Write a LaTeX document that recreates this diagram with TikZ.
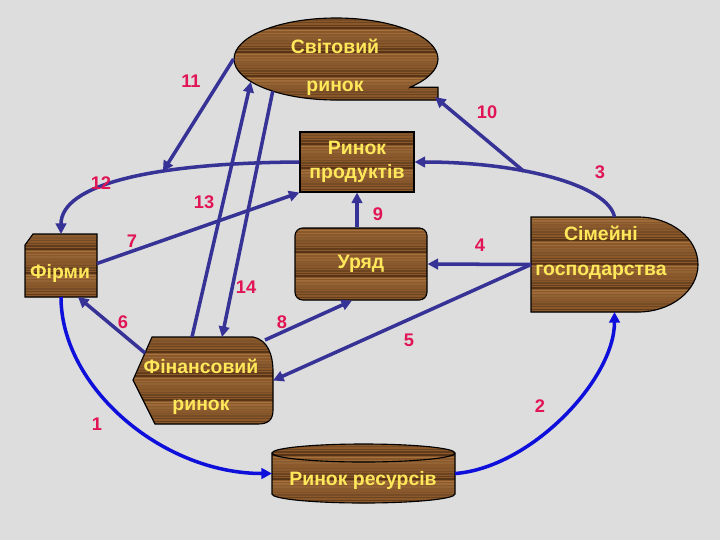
\documentclass[tikz,border=0pt]{standalone}
\usepackage{fontspec}
\setmainfont{Liberation Sans}
\usetikzlibrary{arrows.meta,shapes.geometric}
\definecolor{bggray}{RGB}{221,221,221}
\definecolor{woodmid}{RGB}{138,88,42}
\definecolor{wooddark}{RGB}{88,52,22}
\definecolor{woodlight}{RGB}{176,124,68}
\definecolor{woodtext}{RGB}{255,232,90}
\definecolor{flowpurple}{RGB}{55,50,150}
\definecolor{flowblue}{RGB}{15,15,220}
\definecolor{numred}{RGB}{225,20,85}
\newcommand{\pxu}{0.025cm}

\begin{document}
\begin{tikzpicture}[
    x=\pxu, y=-\pxu,
    wood/.style={
      draw=black, line width=0.8pt, fill=woodmid,
      path picture={
        \foreach \k in {0,...,40}{
          \pgfmathtruncatemacro\tone{mod(\k*37,9)*11}
          \pgfmathsetmacro\grain{0.5+mod(\k*13,4)*0.3}
          \draw[woodlight!\tone!wooddark, line width=\grain pt]
            ([yshift=\k*1.9pt]path picture bounding box.south west) --
            ([yshift=\k*1.9pt]path picture bounding box.south east);
        }
      }
    },
    hub/.style={inner sep=0pt, outer sep=0pt},
    txt/.style={text=woodtext, align=center, font=\bfseries\fontsize{13.8}{17}\selectfont},
    num/.style={text=numred, font=\bfseries\fontsize{13}{15}\selectfont},
    arr/.style={-{Triangle[length=7.5pt,width=7.5pt]}, line width=2.5pt, draw=flowpurple},
    arrb/.style={arr, draw=flowblue}
  ]
    \fill[bggray] (0,0) rectangle (720,540);
    \useasboundingbox (0,0) rectangle (720,540);

    \path[wood] (410,87.2) -- (438,87.2) -- (438,100) -- (336,100)
      arc[start angle=90, end angle=403.5, x radius=102, y radius=41] -- cycle;
    \path[wood] (531,217) -- (638,217)
      arc[start angle=-90, end angle=90, x radius=60, y radius=47.5] -- (531,312) -- cycle;
    \path[wood] (33,234) -- (97,234) -- (97,297) -- (25,297) -- (25,245) -- cycle;
    \path[wood] (152,337) -- (253,337) .. controls (268,340) and (273,355) .. (273,372)
      -- (273,410) .. controls (273,420) and (268,424) .. (258,424) -- (155,424) -- (133,380) -- cycle;
    \path[wood] (272,453) -- (272,494) arc[start angle=180, end angle=0, x radius=91.5, y radius=9]
      -- (455,453) arc[start angle=0, end angle=-180, x radius=91.5, y radius=9] -- cycle;
    \draw[line width=0.8pt] (272,453) arc[start angle=180, end angle=0, x radius=91.5, y radius=9];

    \node[hub, ellipse, minimum width=205*\pxu, minimum height=82*\pxu] (world) at (336,59) {};
    \node[hub, minimum width=167*\pxu, minimum height=95*\pxu] (hh) at (614.5,264.5) {};
    \node[hub, minimum width=72*\pxu, minimum height=63*\pxu] (firms) at (61,265.5) {};
    \node[hub, minimum width=140*\pxu, minimum height=87*\pxu] (fin) at (203,380.5) {};
    \node[hub, minimum width=183*\pxu, minimum height=59*\pxu] (res) at (363.5,473.5) {};
    \node[wood, txt, minimum width=114*\pxu, minimum height=60*\pxu, inner sep=0pt] (prod) at (357,162) {Ринок\\продуктів};
    \node[wood, txt, rounded corners=5.5pt, minimum width=132*\pxu, minimum height=72*\pxu, inner sep=0pt] (gov) at (361,264) {Уряд};

    \node[txt] (worldtxt) at (335,67) {Світовий\\[10pt]ринок};
    \node[txt] (hhtxt) at (601,253) {Сімейні\\[8pt]господарства};
    \node[txt] (firmstxt) at (60,273) {Фірми};
    \node[txt] (fintxt) at (201,387) {Фінансовий\\[9pt]ринок};
    \node[txt] (restxt) at (363,480) {Ринок ресурсів};
    \coordinate (worldtab) at (435,97);

    \draw[arrb] (firms.south) .. controls +(0,90) and +(-110,0) .. (res.west);
    \draw[arrb] (res.east) .. controls (530,468) and (614.5,380) .. (hh.south);
    \draw[arr] (hh.north) .. controls (608,185) and (520,162) .. (prod.east) coordinate[pos=0.62] (bend3);
    \draw[arr] (hh.west) -- (gov.east);
    \draw[arr] (hh.west) -- (fin.east);
    \draw[arr] ([shift={(12,16)}]fin.north west) -- ([shift={(17,0)}]firms.south);
    \draw[arr] ([shift={(0,-2)}]firms.east) -- (prod.south west);
    \draw[arr] ([shift={(-8,3)}]fin.north east) -- ([shift={(-9,0)}]gov.south);
    \draw[arr] (gov.north -| prod.south) -- (prod.south);
    \draw[arr] (bend3) -- (worldtab);
    \draw[arr] (prod.west) .. controls (150,163) and (61,185) .. (firms.north) coordinate[pos=0.36] (bend12);
    \draw[arr] (world.west) -- (bend12);
    \draw[arr] ([shift={(-11,0)}]fin.north) -- (world.195);
    \draw[arr] (world.207) -- ([shift={(19,0)}]fin.north);

    \node[num] (n1) at (97,424) {1};
    \node[num] (n2) at (540,406) {2};
    \node[num] (n3) at (600,172) {3};
    \node[num] (n4) at (480,245) {4};
    \node[num] (n5) at (409,340) {5};
    \node[num] (n6) at (123,322) {6};
    \node[num] (n7) at (132,241) {7};
    \node[num] (n8) at (282,322) {8};
    \node[num] (n9) at (378,214) {9};
    \node[num] (n10) at (487,112) {10};
    \node[num] (n11) at (191,81) {11};
    \node[num] (n12) at (101,183) {12};
    \node[num] (n13) at (204,202) {13};
    \node[num] (n14) at (246,287) {14};
  \end{tikzpicture}
\end{document}
